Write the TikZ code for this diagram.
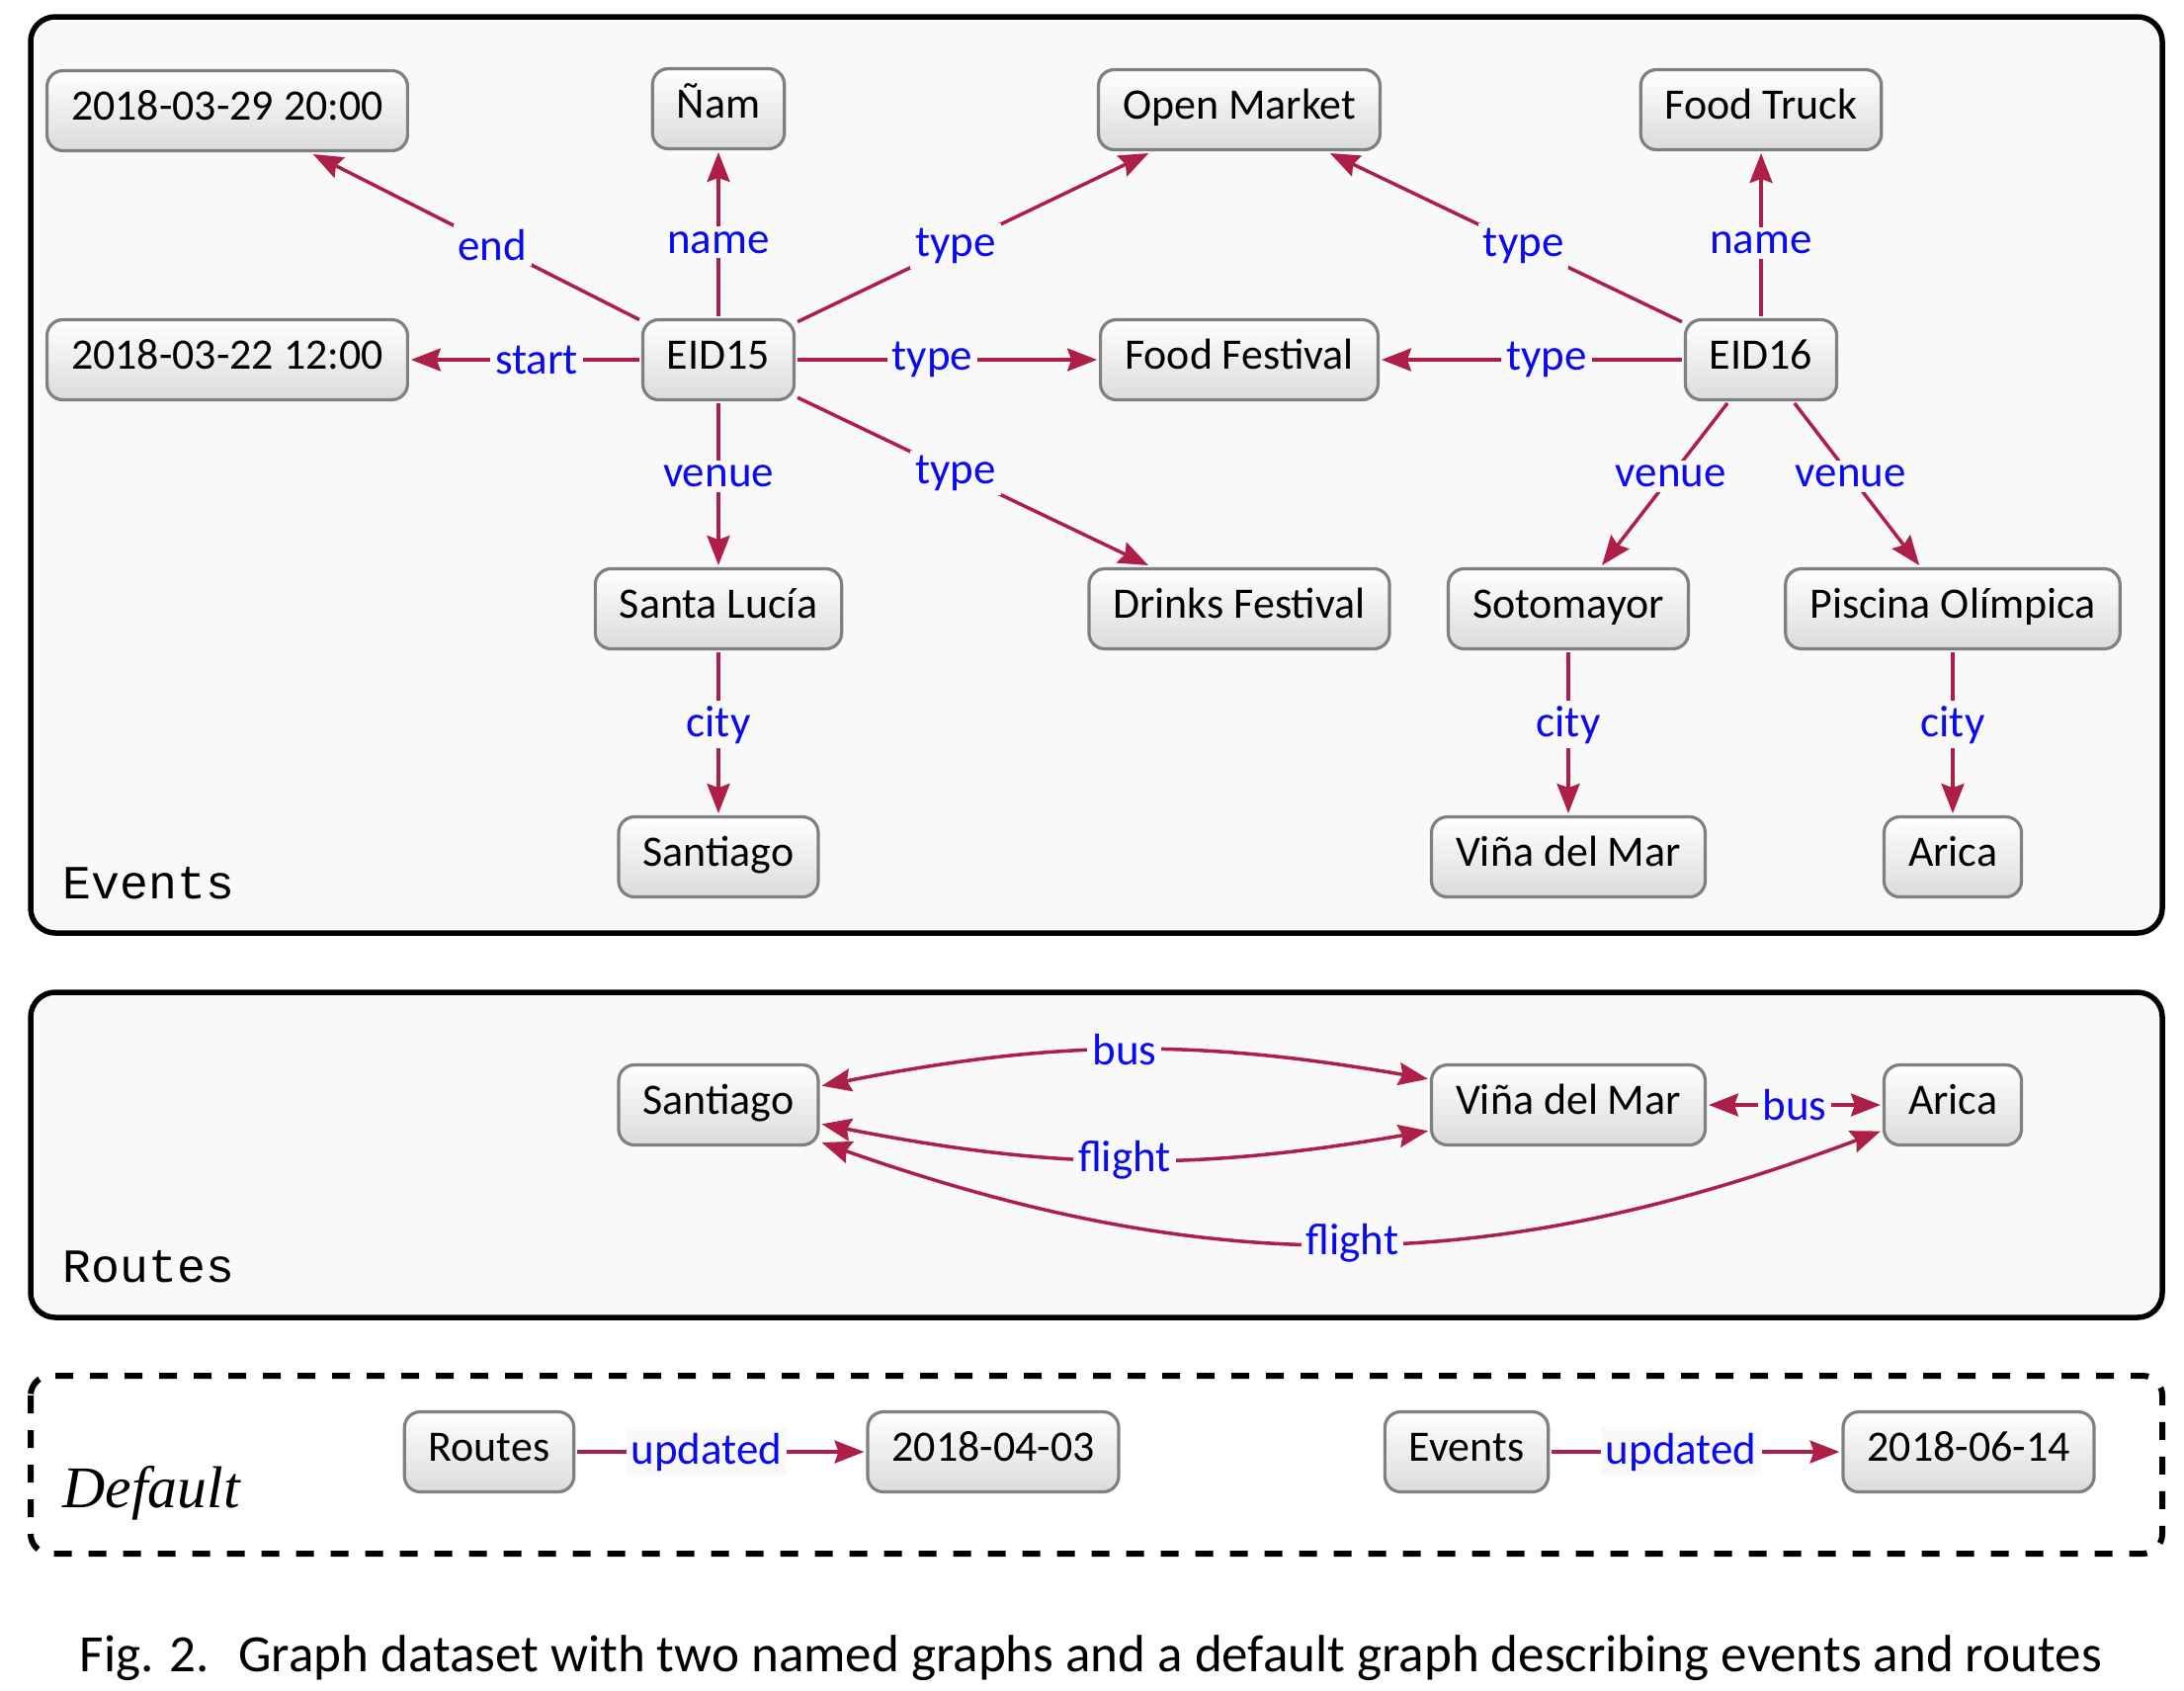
\documentclass[tikz,border=0pt]{standalone}
\usepackage{fontspec}
\setmainfont{Carlito}
\newfontfamily\framemono{Liberation Mono}
\newfontfamily\frameserif{Liberation Serif}
\usetikzlibrary{arrows.meta}
\definecolor{bgc}{HTML}{F9F9F9}
\definecolor{edgec}{RGB}{173,31,71}
\definecolor{lblc}{RGB}{10,10,240}
\definecolor{nodeborder}{RGB}{128,128,128}
\newcommand\nodefont{\fontsize{12.5pt}{15pt}\selectfont}
\tikzset{
  ent/.style={draw=nodeborder, line width=0.32mm, rounded corners=1.6mm,
    top color=white, bottom color=black!14, minimum height=8.1mm,
    inner xsep=2.45mm, inner ysep=0.8mm, text height=0.71em, text depth=0.17em,
    outer sep=0.35mm, font=\nodefont, text=black},
  lbl/.style={fill=bgc, text=lblc, inner sep=0.5mm, font=\fontsize{12.8pt}{15pt}\selectfont},
  arr/.style={draw=edgec, line width=0.35mm, -{Stealth[length=3mm,width=2.3mm,inset=0.4mm]}},
  biarr/.style={draw=edgec, line width=0.35mm, {Stealth[length=3mm,width=2.3mm,inset=0.4mm]}-{Stealth[length=3mm,width=2.3mm,inset=0.4mm]}},
  gframe/.style={draw=black, line width=0.55mm, rounded corners=2.5mm, fill=bgc},
  dframe/.style={draw=black, line width=0.6mm, rounded corners=2mm, dash pattern=on 1.8mm off 1.7mm},
}
\begin{document}
\begin{tikzpicture}[x=0.1mm,y=-0.1mm]
\useasboundingbox (0,0) rectangle (2210,1710);
% frames
\path[gframe] (31,17) rectangle (2188,944);
\path[gframe] (31,1004) rectangle (2188,1333);
\path[dframe] (31,1392) rectangle (2188,1572);
\node[anchor=base west, inner sep=0pt] (evlbl) at (63,909) {\framemono\fontsize{13.7pt}{16pt}\selectfont Events};
\node[anchor=base west, inner sep=0pt] (rtlbl) at (63,1297) {\framemono\fontsize{13.7pt}{16pt}\selectfont Routes};
\node[anchor=base west, inner sep=0pt] (dflbl) at (63,1525) {\frameserif\itshape\fontsize{17pt}{19pt}\selectfont Default};
% Events nodes
\node[ent] (d1) at (230,112) {2018-03-29 20:00};
\node[ent] (nam) at (727,110) {Ñam};
\node[ent] (om) at (1254,111) {Open Market};
\node[ent] (ft) at (1782,111) {Food Truck};
\node[ent] (d2) at (230,364) {2018-03-22 12:00};
\node[ent] (e15) at (727,364) {EID15};
\node[ent] (ff) at (1254,364) {Food Festival};
\node[ent] (e16) at (1782,364) {EID16};
\node[ent] (sl) at (727,616) {Santa Lucía};
\node[ent] (df) at (1254,616) {Drinks Festival};
\node[ent] (so) at (1587,616) {Sotomayor};
\node[ent] (po) at (1976,616) {Piscina Olímpica};
\node[ent] (sa) at (727,867) {Santiago};
\node[ent] (vm) at (1587,867) {Viña del Mar};
\node[ent] (ar) at (1976,867) {Arica};
% Events edges
\draw[arr] (e15) -- node[lbl,pos=0.45]{end} (d1);
\draw[arr] (e15) -- node[lbl,pos=0.45]{name} (nam);
\draw[arr] (e15) -- node[lbl,pos=0.45]{type} (om);
\draw[arr] (e15) -- node[lbl,pos=0.45]{start} (d2);
\draw[arr] (e15) -- node[lbl,pos=0.45]{type} (ff);
\draw[arr] (e15) -- node[lbl,pos=0.45]{venue} (sl);
\draw[arr] (e15) -- node[lbl,pos=0.45]{type} (df);
\draw[arr] (sl) -- node[lbl,pos=0.45]{city} (sa);
\draw[arr] (e16) -- node[lbl,pos=0.45]{type} (om);
\draw[arr] (e16) -- node[lbl,pos=0.45]{name} (ft);
\draw[arr] (e16) -- node[lbl,pos=0.45]{type} (ff);
\draw[arr] (e16) -- node[lbl,pos=0.45]{venue} (so);
\draw[arr] (e16) -- node[lbl,pos=0.45]{venue} (po);
\draw[arr] (so) -- node[lbl,pos=0.45]{city} (vm);
\draw[arr] (po) -- node[lbl,pos=0.45]{city} (ar);
% Routes nodes
\node[ent] (rsa) at (727,1118) {Santiago};
\node[ent] (rvm) at (1587,1118) {Viña del Mar};
\node[ent] (rar) at (1976,1118) {Arica};
\draw[biarr] (rsa) to[bend left=10.5] node[lbl]{bus} (rvm);
\draw[biarr] (rsa) to[bend right=10.5] node[lbl]{flight} (rvm);
\draw[biarr] (rvm) -- node[lbl]{bus} (rar);
\draw[biarr] (rsa) to[bend right=20] node[lbl]{flight} (rar);
% Default nodes
\node[ent] (grt) at (495,1469) {Routes};
\node[ent] (d3) at (1005,1469) {2018-04-03};
\node[ent] (gev) at (1484,1469) {Events};
\node[ent] (d4) at (1992,1469) {2018-06-14};
\draw[arr] (grt) -- node[lbl,pos=0.45]{updated} (d3);
\draw[arr] (gev) -- node[lbl,pos=0.45]{updated} (d4);
% caption
\node[anchor=base, inner sep=0pt] (cap) at (1104,1691) {\fontsize{15.1pt}{17pt}\selectfont Fig. 2.\hspace{0.55em}Graph dataset with two named graphs and a default graph describing events and routes};
\end{tikzpicture}
\end{document}
